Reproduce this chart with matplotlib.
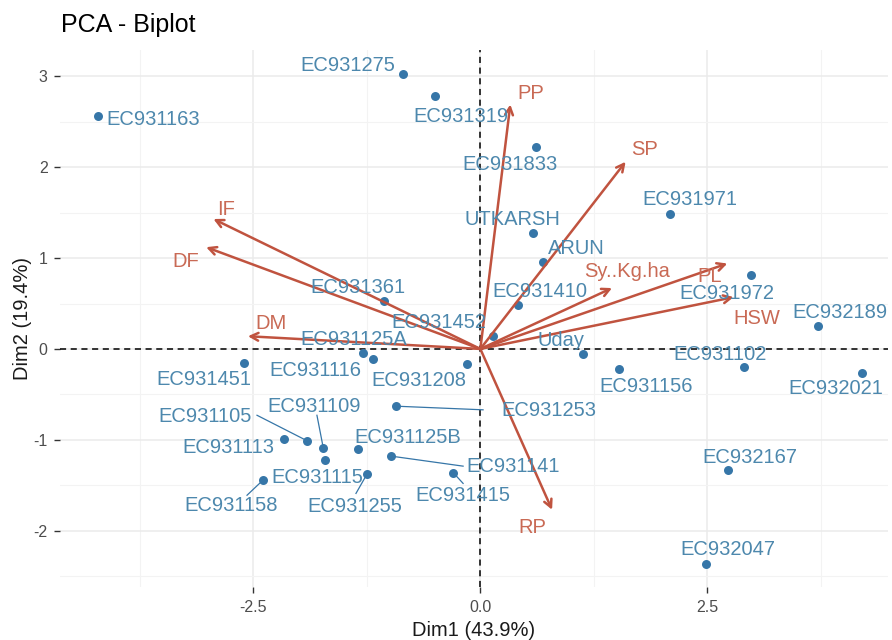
import matplotlib
matplotlib.use("Agg")
import matplotlib.pyplot as plt
from matplotlib.ticker import MultipleLocator, FormatStrFormatter

plt.rcParams['font.family'] = ['Liberation Sans', 'DejaVu Sans']
plt.rcParams['axes.unicode_minus'] = False

# ---- individuals (Dim1, Dim2) ----
ind_names = ["EC931163", "EC931275", "EC931319", "EC931833", "EC931971", "UTKARSH",
             "ARUN", "EC931410", "EC931452", "EC931972", "EC932189", "Uday",
             "EC931102", "EC932021", "EC931156", "EC932167", "EC932047", "EC931361",
             "EC931125A", "EC931116", "EC931208", "EC931451", "EC931253", "EC931105",
             "EC931113", "EC931109", "EC931115", "EC931125B", "EC931255", "EC931141",
             "EC931415", "EC931158"]
ind_x = [-4.21, -0.85, -0.50, 0.61, 2.09, 0.58, 0.69, 0.42, 0.14, 2.98, 3.72, 1.13,
         2.90, 4.20, 1.53, 2.73, 2.48, -1.06, -1.29, -1.18, -0.15, -2.60, -0.93, -1.91,
         -2.16, -1.73, -1.71, -1.35, -1.25, -0.98, -0.30, -2.39]
ind_y = [2.56, 3.03, 2.78, 2.22, 1.49, 1.28, 0.96, 0.48, 0.14, 0.81, 0.25, -0.06,
         -0.20, -0.26, -0.22, -1.33, -2.37, 0.53, -0.05, -0.11, -0.17, -0.15, -0.63, -1.01,
         -0.99, -1.09, -1.22, -1.10, -1.38, -1.18, -1.36, -1.44]
# repelled label positions (data units)
ind_lab_x = [-3.60, -1.46, -0.21, 0.33, 2.31, 0.35, 1.06, 0.66, -0.46, 2.72, 3.96, 0.89,
             2.64, 3.91, 1.83, 2.97, 2.73, -1.35, -1.40, -1.82, -0.68, -3.04, 0.75, -3.03,
             -2.78, -1.83, -1.80, -0.80, -1.38, 0.36, -0.19, -2.75]
ind_lab_y = [2.52, 3.12, 2.56, 2.03, 1.64, 1.43, 1.10, 0.63, 0.29, 0.61, 0.40, 0.09,
             -0.06, -0.44, -0.41, -1.19, -2.21, 0.68, 0.10, -0.24, -0.35, -0.34, -0.68, -0.74,
             -1.08, -0.63, -1.42, -0.97, -1.73, -1.29, -1.61, -1.72]
# connector segments (name -> end of segment near label)
seg_names = ["EC931253", "EC931105", "EC931109", "EC931158", "EC931255", "EC931141", "EC931415"]
seg_end_x = [0.03, -2.46, -1.80, -2.57, -1.37, -0.19, -0.19]
seg_end_y = [-0.67, -0.73, -0.73, -1.61, -1.59, -1.29, -1.48]

# ---- variables ----
var_names = ["PP", "SP", "IF", "DF", "DM", "Sy..Kg.ha", "PL", "HSW", "RP"]
var_x = [0.33, 1.60, -2.94, -3.02, -2.56, 1.45, 2.72, 2.79, 0.79]
var_y = [2.69, 2.06, 1.43, 1.12, 0.14, 0.67, 0.94, 0.57, -1.77]
var_lab_x = [0.56, 1.81, -2.80, -3.24, -2.31, 1.62, 2.53, 3.05, 0.57]
var_lab_y = [2.81, 2.19, 1.53, 0.96, 0.28, 0.85, 0.80, 0.34, -1.97]

x_ticks = [-2.5, 0.0, 2.5]
y_ticks = [-2, -1, 0, 1, 2, 3]

pt_col = "#3676A8"
txt_col = "#4D88AD"
var_col = "#C0533F"
var_txt = "#C96A55"

fig = plt.figure(figsize=(8.92, 6.4), dpi=100)
ax = fig.add_axes([60/892, 53/640, 828/892, 537/640])
ax.set_xlim(-4.63, 4.49)
ax.set_ylim(-2.62, 3.29)

for s in ax.spines.values():
    s.set_visible(False)

ax.set_xticks(x_ticks)
ax.set_yticks(y_ticks)
ax.xaxis.set_minor_locator(MultipleLocator(1.25))
ax.yaxis.set_minor_locator(MultipleLocator(0.5))
ax.xaxis.set_major_formatter(FormatStrFormatter('%.1f'))
ax.yaxis.set_major_formatter(FormatStrFormatter('%d'))
ax.grid(which='major', color='#EBEBEB', lw=1.1, zorder=0)
ax.grid(which='minor', color='#F3F3F3', lw=0.8, zorder=0)
ax.set_axisbelow(True)
ax.tick_params(which='minor', length=0)
ax.tick_params(which='major', length=4, width=1, color='#333333',
               labelsize=11.5, labelcolor='#4D4D4D', pad=5)

ax.axhline(0, color='black', ls=(0, (4, 3)), lw=1.1, zorder=1)
ax.axvline(0, color='black', ls=(0, (4, 3)), lw=1.1, zorder=1)

# connector segments
name_idx = {n: i for i, n in enumerate(ind_names)}
for n, ex, ey in zip(seg_names, seg_end_x, seg_end_y):
    i = name_idx[n]
    ax.plot([ind_x[i], ex], [ind_y[i], ey], color=pt_col, lw=0.9, zorder=2)

# points
ax.scatter(ind_x, ind_y, s=42, color=pt_col, zorder=3, linewidths=0)

# arrows
for vx, vy in zip(var_x, var_y):
    ax.annotate('', xy=(vx, vy), xytext=(0, 0),
                arrowprops=dict(arrowstyle='->,head_length=0.55,head_width=0.28',
                                color=var_col, lw=1.8, shrinkA=0, shrinkB=0),
                zorder=4)

# labels
for n, lx, ly in zip(ind_names, ind_lab_x, ind_lab_y):
    ax.text(lx, ly, n, ha='center', va='center', fontsize=14.5, color=txt_col, zorder=5)
for n, lx, ly in zip(var_names, var_lab_x, var_lab_y):
    ax.text(lx, ly, n, ha='center', va='center', fontsize=14.5, color=var_txt, zorder=5)

ax.set_xlabel("Dim1 (43.9%)", fontsize=14.5, color='#1A1A1A', labelpad=4.5)
ax.set_ylabel("Dim2 (19.4%)", fontsize=14.5, color='#1A1A1A', labelpad=1)
fig.text(61/892, 1 - 25/640, "PCA - Biplot", fontsize=18, color='black',
         ha='left', va='center')

fig.savefig("out.png", dpi=100, facecolor='white')
